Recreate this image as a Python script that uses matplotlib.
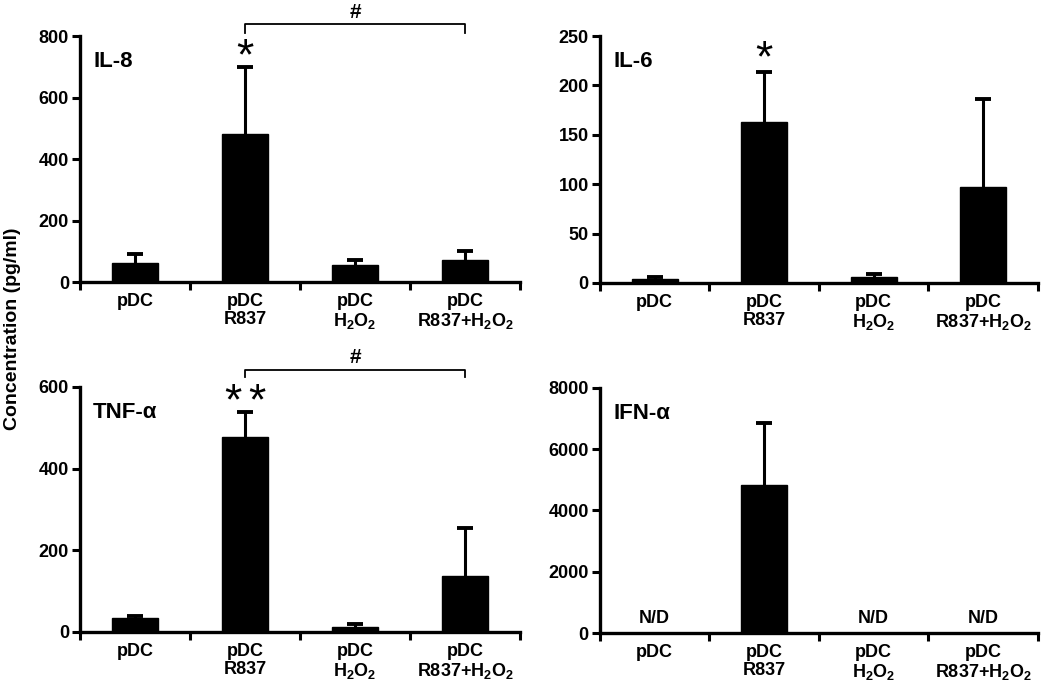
import matplotlib
matplotlib.use("Agg")
import matplotlib.pyplot as plt
import numpy as np

plt.rcParams['font.family'] = ['Liberation Sans', 'DejaVu Sans']
plt.rcParams['font.weight'] = 'bold'
plt.rcParams['mathtext.fontset'] = 'custom'
plt.rcParams['mathtext.bf'] = 'Liberation Sans:bold'
plt.rcParams['mathtext.rm'] = 'Liberation Sans:bold'
plt.rcParams['mathtext.default'] = 'bf'

categories = ["pDC", "pDC\nR837", "pDC\nH$_{2}$O$_{2}$", "pDC\nR837+H$_{2}$O$_{2}$"]

il8_mean = [62, 482, 55, 70]
il8_err = [30, 218, 15, 30]
il6_mean = [4, 163, 6, 97]
il6_err = [2, 51, 3, 89]
tnf_mean = [35, 478, 13, 136]
tnf_err = [4, 60, 6, 118]
ifn_mean = [0, 4820, 0, 0]
ifn_err = [0, 2040, 0, 0]
ifn_nd = [True, False, True, True]

panels = [
    ("IL-8", il8_mean, il8_err, 800, [0, 200, 400, 600, 800], [0.0762, 0.5883, 0.419, 0.359]),
    ("IL-6", il6_mean, il6_err, 250, [0, 50, 100, 150, 200, 250], [0.5714, 0.5869, 0.417, 0.3605]),
    ("TNF-\u03b1", tnf_mean, tnf_err, 600, [0, 200, 400, 600], [0.0762, 0.0774, 0.419, 0.3577]),
    ("IFN-\u03b1", ifn_mean, ifn_err, 8000, [0, 2000, 4000, 6000, 8000], [0.5714, 0.0759, 0.417, 0.3577]),
]

fig = plt.figure(figsize=(10.5, 6.85), dpi=100)
axes = []
x = np.arange(len(categories))
for name, mean, err, ymax, yticks, rect in panels:
    ax = fig.add_axes(rect)
    axes.append(ax)
    mean = np.array(mean, dtype=float)
    err = np.array(err, dtype=float)
    ax.bar(x, mean, width=0.42, color='black', edgecolor='black', zorder=3)
    has = err > 0
    ax.vlines(x[has], mean[has], mean[has] + err[has], color='black', lw=2.2, zorder=2)
    ax.plot(x[has], mean[has] + err[has], linestyle='none', marker='_', markersize=11,
            markeredgewidth=2.8, color='black', zorder=2)
    ax.set_xlim(-0.5, 3.5)
    ax.set_ylim(0, ymax)
    ax.set_yticks(yticks)
    ax.set_yticklabels([str(t) for t in yticks], fontsize=13, fontweight='bold')
    ax.set_xticks([-0.5, 0.5, 1.5, 2.5, 3.5])
    ax.set_xticklabels([])
    ax.set_xticks(x, minor=True)
    ax.set_xticklabels(categories, minor=True, fontsize=13, fontweight='bold', linespacing=1.05)
    ax.tick_params(axis='x', which='minor', length=0, pad=8)
    ax.tick_params(axis='x', which='major', length=6, width=2.2, direction='out')
    ax.tick_params(axis='y', length=6, width=2.2, direction='out', pad=2)
    for s in ['top', 'right']:
        ax.spines[s].set_visible(False)
    for s in ['left', 'bottom']:
        ax.spines[s].set_linewidth(2.4)
    ax.text(0.03, 0.895, name, transform=ax.transAxes, fontsize=16, fontweight='bold',
            va='center', ha='left')

# annotations
ax1, ax2, ax3, ax4 = axes
ax1.plot([1, 1, 3, 3], [810, 839, 839, 810], color='black', lw=1.3, clip_on=False)
ax1.text(2, 878, "#", ha='center', va='center', fontsize=15, fontweight='bold')
ax1.text(1, 730, "*", ha='center', va='center', fontsize=32, fontweight='normal')
ax2.text(1, 226, "*", ha='center', va='center', fontsize=32, fontweight='normal')
ax3.plot([1, 1, 3, 3], [624, 642, 642, 624], color='black', lw=1.3, clip_on=False)
ax3.text(2, 673, "#", ha='center', va='center', fontsize=15, fontweight='bold')
ax3.text(0.89, 562, "*", ha='center', va='center', fontsize=32, fontweight='normal')
ax3.text(1.11, 562, "*", ha='center', va='center', fontsize=32, fontweight='normal')
for i, nd in enumerate(ifn_nd):
    if nd:
        ax4.annotate("N/D", (i, 0), xytext=(0, 4), textcoords='offset points',
                     ha='center', va='bottom', fontsize=13, fontweight='bold')

fig.text(0.012, 0.52, "Concentration (pg/ml)", rotation=90, ha='center', va='center',
         fontsize=14, fontweight='bold')

fig.savefig("out.png", dpi=100)
